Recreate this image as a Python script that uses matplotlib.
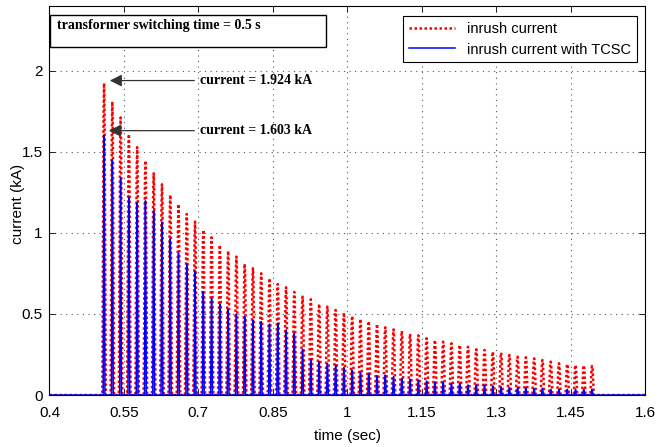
import matplotlib
matplotlib.use("Agg")
from matplotlib import pyplot as plt
from matplotlib.patches import Rectangle
import numpy as np


# peak of every current pulse (kA), one pulse per 60 Hz cycle after switching
inrush_peaks = [1.924, 1.810, 1.712, 1.609, 1.529, 1.446, 1.368, 1.300, 1.235, 1.178,
                1.117, 1.070, 1.019, 0.973, 0.926, 0.889, 0.854, 0.809, 0.782,
                0.751, 0.720, 0.685, 0.665, 0.636, 0.607, 0.591, 0.562, 0.545, 0.525,
                0.508, 0.488, 0.469, 0.455, 0.438, 0.418, 0.405, 0.395, 0.377, 0.368,
                0.350, 0.340, 0.329, 0.319, 0.309, 0.298, 0.282, 0.278, 0.267,
                0.261, 0.247, 0.236, 0.233, 0.226, 0.216, 0.206, 0.196, 0.191,
                0.185, 0.183, 0.179]

tcsc_peaks = [1.603, 1.451, 1.337, 1.220, 1.187, 1.198, 1.136, 1.064, 0.963, 0.876,
              0.809, 0.765, 0.638, 0.597, 0.562, 0.529, 0.500, 0.483, 0.463,
              0.453, 0.438, 0.442, 0.401, 0.381, 0.282, 0.220, 0.206, 0.195, 0.185,
              0.169, 0.154, 0.142, 0.134, 0.119, 0.123, 0.113, 0.103, 0.097, 0.093,
              0.086, 0.080, 0.080, 0.072, 0.072, 0.062, 0.062, 0.062, 0.056,
              0.051, 0.047, 0.047, 0.045, 0.039, 0.041, 0.035, 0.035, 0.035,
              0.035, 0.035, 0.035]

first_pulse = 0.51      # s, first peak after switching at 0.5 s
period = 1 / 60         # s
t_start, t_end = 0.4, 1.6

x_ticks = [0.4, 0.55, 0.7, 0.85, 1, 1.15, 1.3, 1.45, 1.6]
x_labels = ['0.4', '0.55', '0.7', '0.85', '1', '1.15', '1.3', '1.45', '1.6']
y_ticks = [0, 0.5, 1, 1.5, 2]
y_labels = ['0', '0.5', '1', '1.5', '2']

# relative shape of a single pulse
shape_dt = np.array([-1, -0.6, -0.3, 0, 0.3, 0.6, 1])
shape_amp = np.array([0, 0.55, 0.9, 1, 0.9, 0.55, 0])


def pulse_train(peaks, half_width):
    """Build a time/current trace made of one narrow pulse per peak."""
    times = first_pulse + np.arange(len(peaks)) * period
    t = [t_start]
    i = [0.0]
    for tc, pk in zip(times, peaks):
        t.extend(tc + shape_dt * half_width)
        i.extend(pk * shape_amp)
    t.append(t_end)
    i.append(0.0)
    return np.array(t), np.array(i)


def main():
    plt.rcParams['font.family'] = ['Liberation Sans', 'DejaVu Sans']
    fig = plt.figure(figsize=(6.57, 4.47), dpi=100)
    ax = fig.add_axes([0.0753, 0.1163, 0.9064, 0.8703])

    t_red, i_red = pulse_train(inrush_peaks, 0.0035)
    t_blue, i_blue = pulse_train(tcsc_peaks, 0.0018)
    ax.plot(t_red, i_red, color='red', linestyle=(0, (1, 1)), lw=1.8,
            label='inrush current')
    ax.plot(t_blue, i_blue, color='blue', linestyle='-', lw=1.1,
            label='inrush current with TCSC')

    ax.set_xlim(t_start, t_end)
    ax.set_ylim(0, 2.4)
    ax.set_xticks(x_ticks)
    ax.set_xticklabels(x_labels)
    ax.set_yticks(y_ticks)
    ax.set_yticklabels(y_labels)
    ax.tick_params(direction='in', top=True, right=True, labelsize=11,
                   length=4, width=0.6)
    ax.tick_params(axis='x', pad=8)
    ax.tick_params(axis='y', pad=5)
    ax.grid(True, color='#4a5a6a', linestyle=(0, (1, 4)), lw=0.8)
    for s in ax.spines.values():
        s.set_linewidth(0.8)

    ax.set_xlabel('time (sec)', fontsize=11)
    ax.set_ylabel('current (kA)', fontsize=11)
    ax.xaxis.set_label_coords(0.5, -0.088)
    ax.yaxis.set_label_coords(-0.041, 0.49)

    # text box at top left
    ax.add_patch(Rectangle((0.001, 0.895), 0.463, 0.082, transform=ax.transAxes,
                           facecolor='white', edgecolor='black', lw=1.0,
                           zorder=5))
    ax.text(0.0126, 0.951, 'transformer switching time = 0.5 s',
            transform=ax.transAxes, fontsize=10, fontweight='bold',
            family='Liberation Serif', va='center', ha='left', zorder=6)

    # peak annotations
    bold_serif = dict(fontsize=10, fontweight='bold', family='Liberation Serif')
    arrow = dict(arrowstyle='-|>', color='#333333', lw=0.9, mutation_scale=18)
    ax.annotate('current = 1.924 kA', xy=(first_pulse + 0.006, 1.94),
                xytext=(0.703, 1.94), va='center', ha='left',
                arrowprops=arrow, **bold_serif)
    ax.annotate('current = 1.603 kA', xy=(first_pulse + 0.004, 1.631),
                xytext=(0.703, 1.631), va='center', ha='left',
                arrowprops=arrow, **bold_serif)

    leg = ax.legend(loc='upper right', bbox_to_anchor=(0.9866, 0.974),
                    borderaxespad=0, fontsize=10.5, handlelength=3.2,
                    fancybox=False, framealpha=1, edgecolor='black',
                    labelspacing=0.45, borderpad=0.4)
    leg.get_frame().set_linewidth(0.8)
    leg.set_zorder(7)

    fig.savefig('out.png', dpi=100)


if __name__ == "__main__":
    main()
